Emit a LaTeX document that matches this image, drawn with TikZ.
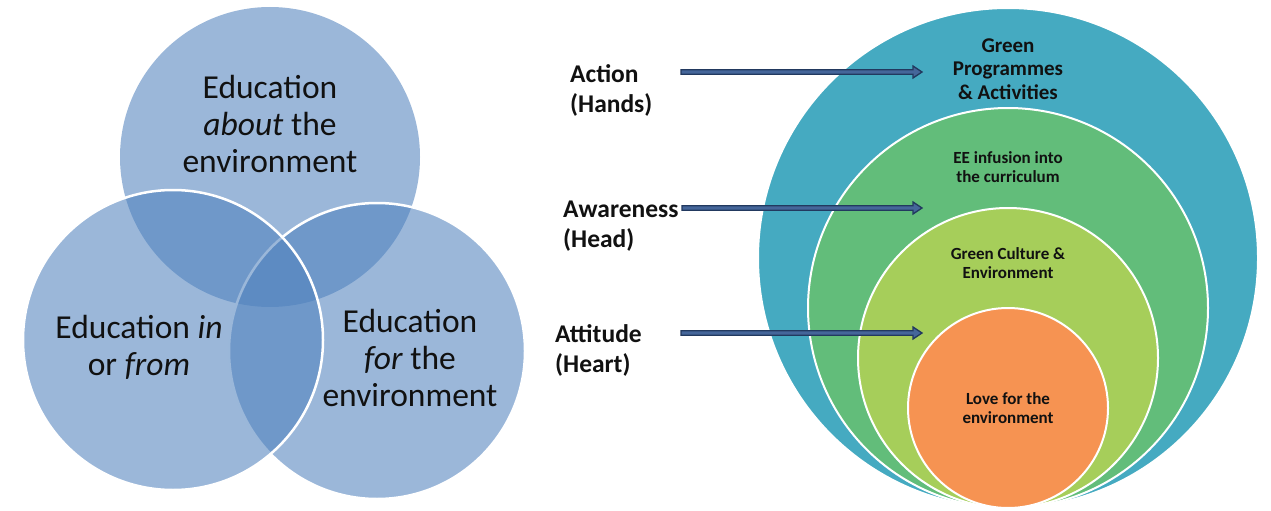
\documentclass[tikz,border=0pt]{standalone}
\usepackage{fontspec}
\setmainfont{Carlito}
\usetikzlibrary{calc}
\definecolor{vennblue}{HTML}{4F81BD}
\definecolor{teal}{HTML}{45AAC1}
\definecolor{midgreen}{HTML}{62BD7A}
\definecolor{lightgreen}{HTML}{A6CE5A}
\definecolor{orangec}{HTML}{F69352}
\definecolor{arrout}{HTML}{22395F}
\definecolor{arrin}{HTML}{45669A}
\definecolor{txt}{HTML}{111111}
\begin{document}
\begin{tikzpicture}[x=1pt,y=-1pt,
  venn/.style={circle, inner sep=0pt, minimum size=#1, fill=vennblue, fill opacity=0.57},
  ring/.style={circle, inner sep=0pt, minimum size=#1, draw=white, line width=2pt},
  venntext/.style={align=center, inner sep=0pt, text=txt, font=\fontsize{33.5}{37}\selectfont},
  lbl/.style={align=left, anchor=west, inner sep=0pt, text=txt, font=\fontsize{25.5}{30}\selectfont\bfseries},
  ringtext/.style={align=center, inner sep=0pt, text=txt, font=\fontsize{17}{18.5}\selectfont\bfseries},
  arrbody/.style={fill=arrin, draw=arrout, line width=1.3pt, line join=miter}
]
\useasboundingbox (0,0) rectangle (1271,511);
% Venn diagram
\node[venn=300pt] (top) at (270,157) {};
\node[venn=296pt, draw=white, draw opacity=1, line width=2.5pt] (right) at (377,351) {};
\node[venn=300pt, draw=white, draw opacity=1, line width=2.5pt] (left) at (173,340) {};
\node[venntext] (ttop) at (270,124) {Education\\\textit{about} the\\environment};
\node[venntext] (tleft) at (139,347) {Education \textit{in}\\or \textit{from}};
\node[venntext] (tright) at (410,358) {Education\\\textit{for} the\\environment};
% Concentric circles
\node[ring=500pt, fill=teal] (c1) at (1008,258) {};
\node[ring=400pt, fill=midgreen] (c2) at (1008,308) {};
\node[ring=300pt, fill=lightgreen] (c3) at (1008,358) {};
\node[ring=200pt, fill=orangec] (c4) at (1008,408) {};
\node[ringtext, font=\fontsize{21}{23.5}\selectfont\bfseries] (g1) at (1008,69) {Green\\Programmes\\\& Activities};
\node[ringtext] (g2) at (1008,167) {EE infusion into\\the curriculum};
\node[ringtext] (g3) at (1008,263) {Green Culture \&\\Environment};
\node[ringtext] (g4) at (1008,408) {Love for the\\environment};
% Labels
\node[lbl] (l1) at (570,90.5) {Action\\(Hands)};
\node[lbl] (l2) at (563,226) {Awareness\\(Head)};
\node[lbl] (l3) at (555,350) {Attitude\\(Heart)};
% Arrows
\coordinate (a1s) at (681,72);  \coordinate (a1e) at (922,72);
\coordinate (a2s) at (682,208); \coordinate (a2e) at (922,208);
\coordinate (a3s) at (681,333); \coordinate (a3e) at (922,333);
\foreach \s/\e in {a1s/a1e,a2s/a2e,a3s/a3e}{
  \filldraw[arrbody] ($(\s)+(0,-2.3)$) -- ($(\e)+(-9,-2.3)$) -- ($(\e)+(-9,-6)$) -- (\e)
    -- ($(\e)+(-9,6)$) -- ($(\e)+(-9,2.3)$) -- ($(\s)+(0,2.3)$) -- cycle;
}
\end{tikzpicture}
\end{document}
